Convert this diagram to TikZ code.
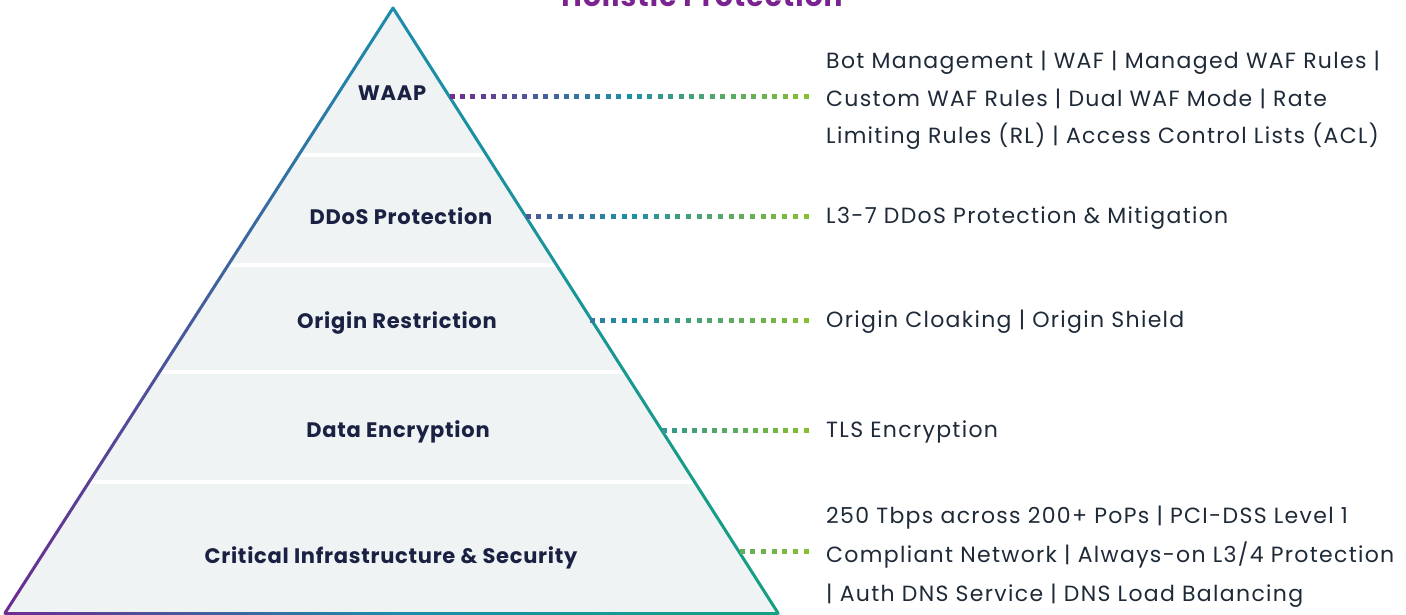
\documentclass[tikz,border=0pt]{standalone}
\usepackage{fontspec}
\setmainfont{Poppins}
\usepackage{tikz}
\usetikzlibrary{calc}
\usepackage{xcolor}

\definecolor{edgepurple}{HTML}{6C2C91}
\definecolor{edgeteal}{HTML}{1C8CAA}
\definecolor{edgegreen}{HTML}{14A080}
\definecolor{dotpurple}{HTML}{732C93}
\definecolor{dotteal}{HTML}{1E8FA4}
\definecolor{dotgreen}{HTML}{86BE30}
\definecolor{layerfill}{HTML}{EFF3F4}
\definecolor{labelnavy}{HTML}{1A2142}
\definecolor{textdark}{HTML}{1E2A38}
\definecolor{titlepurple}{HTML}{7A2390}

% three-stop colour ramp: position in [0,1], colour name, stops
\newcommand{\rampcolor}[5]{%
  \pgfmathsetmacro{\rampt}{max(0,min(1,#1))}%
  \ifdim\rampt pt<0.5pt
    \pgfmathsetmacro{\ramppct}{100*(1-2*\rampt)}%
    \colorlet{#2}{#3!\ramppct!#4}%
  \else
    \pgfmathsetmacro{\ramppct}{100*(2-2*\rampt)}%
    \colorlet{#2}{#4!\ramppct!#5}%
  \fi}

\begin{document}
\begin{tikzpicture}[x=1pt, y=-1pt,
    layer/.style={font=\bfseries\fontsize{21}{24}\selectfont\addfontfeatures{LetterSpace=3.5}, text=labelnavy, anchor=base, inner sep=0},
    info/.style={font=\fontsize{22}{37.5}\selectfont\addfontfeatures{LetterSpace=6}, text=textdark, align=left, anchor=base west, inner sep=0},
    dot/.style={rectangle, minimum size=5, inner sep=0}]
  \useasboundingbox (0,0) rectangle (1406,615);

  % Define the corners of the pyramid
  \coordinate (apex) at (393, 8);
  \coordinate (bl) at (5, 613);
  \coordinate (br) at (778, 613);

  % Fill the pyramid and split it into layers
  \fill[layerfill] (apex) -- (bl) -- (br) -- cycle;
  \begin{scope}
    \clip (apex) -- (bl) -- (br) -- cycle;
    \foreach \yy in {155, 265, 372, 482}
      \draw[white, line width=4] (0, \yy) -- (800, \yy);
  \end{scope}

  % Outline with a colour ramp from left to right
  \foreach \ax/\ay/\bx/\by in {393/8/5/613, 5/613/778/613, 778/613/393/8} {
    \foreach \i in {0,...,59} {
      \pgfmathsetmacro{\xa}{\ax+(\bx-\ax)/60*\i}
      \pgfmathsetmacro{\ya}{\ay+(\by-\ay)/60*\i}
      \pgfmathsetmacro{\xb}{\ax+(\bx-\ax)/60*(\i+1)}
      \pgfmathsetmacro{\yb}{\ay+(\by-\ay)/60*(\i+1)}
      \rampcolor{((\xa+\xb)/2-5)/773}{segc}{edgepurple}{edgeteal}{edgegreen}
      \draw[segc, line width=3, line cap=round] (\xa, \ya) -- (\xb, \yb);
    }
  }

  % Title, cut by the top edge
  \node[font=\bfseries\fontsize{28}{30}\selectfont\addfontfeatures{LetterSpace=4}, text=titlepurple, anchor=base, inner sep=0] (title) at (702, 7) {Holistic Protection};

  % Layer labels
  \node[layer] (waap) at (392, 101) {WAAP};
  \node[layer] (ddos) at (401, 224) {DDoS Protection};
  \node[layer] (origin) at (397, 328) {Origin Restriction};
  \node[layer] (enc) at (398, 437) {Data Encryption};
  \node[layer] (crit) at (391, 563) {Critical Infrastructure \& Security};

  % Feature lists (anchored at the last line)
  \node[info] (waap-info) at (826, 144) {Bot Management | WAF | Managed WAF Rules |\\Custom WAF Rules | Dual WAF Mode | Rate\\Limiting Rules (RL) | Access Control Lists (ACL)};
  \node[info] (ddos-info) at (826, 223) {L3-7 DDoS Protection \& Mitigation};
  \node[info] (origin-info) at (826, 327) {Origin Cloaking | Origin Shield};
  \node[info] (enc-info) at (826, 437) {TLS Encryption};
  \node[info, font=\fontsize{22}{39}\selectfont\addfontfeatures{LetterSpace=6}] (crit-info) at (826, 601) {250 Tbps across 200+ PoPs | PCI-DSS Level 1\\Compliant Network | Always-on L3/4 Protection\\| Auth DNS Service | DNS Load Balancing};

  % Dotted connectors from the pyramid to the lists
  \foreach \row/\sx/\yy in {waap/452/97, ddos/528/216, origin/592/320, enc/664/430, crit/742/551} {
    \coordinate (\row-s) at (\sx, \yy);
    \coordinate (\row-e) at ($(\row-s -| \row-info.west)+(-20,0)$);
    \pgfmathtruncatemacro{\ndots}{round((806-\sx)/10.5)}
    \foreach \k in {0,...,\ndots} {
      \pgfmathsetmacro{\dotpos}{\k/\ndots}
      \rampcolor{(\sx+(806-\sx)*\dotpos-450)/356}{dotc}{dotpurple}{dotteal}{dotgreen}
      \node[dot, fill=dotc] at ($(\row-s)!\dotpos!(\row-e)$) {};
    }
  }
\end{tikzpicture}
\end{document}
